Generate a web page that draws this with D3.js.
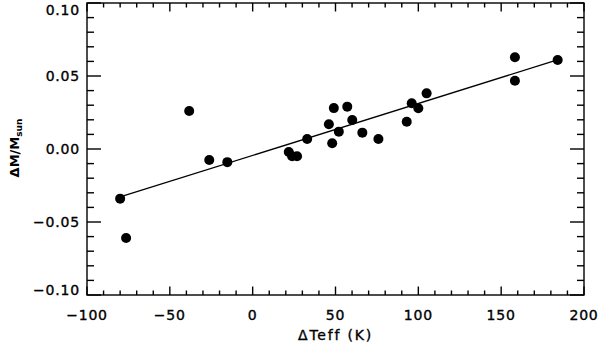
<!DOCTYPE html>
<html><head><meta charset="utf-8">
<script src="https://cdn.jsdelivr.net/npm/d3@7"></script>
<style>
body{margin:0;background:#fff;}
svg{display:block;}
text{font-family:"DejaVu Sans",sans-serif;fill:#000;}
.lab{stroke:#000;stroke-width:0.35;}
</style></head>
<body><svg id="c" width="600" height="347"></svg>
<script>
const dTeff = [-80, -76.4, -38.3, -26.2, -15.3, 21.8, 23.8, 26.8, 32.9, 46, 49, 48, 52, 57.1, 60.1, 66.2, 75.9, 93, 96, 100, 105, 158.3, 158.3, 184.1];
const dM = [-0.034, -0.061, 0.026, -0.0075, -0.009, -0.002, -0.005, -0.005, 0.0068, 0.017, 0.028, 0.0039, 0.0119, 0.029, 0.0199, 0.0112, 0.0068, 0.0187, 0.0313, 0.0279, 0.0381, 0.0628, 0.0468, 0.061];
const fitX = [-80.5, 182];
const fitY = [-0.0330, 0.0603];
const xTicks = [-100, -50, 0, 50, 100, 150, 200];
const yTicks = [-0.10, -0.05, 0.00, 0.05, 0.10];
const xMinor = d3.range(-100, 201, 10);
const yMinor = d3.range(-10, 11, 1).map(v => v / 100);

const L = 87, R = 584, T = 3, B = 295;
const svg = d3.select("#c");
const x = d3.scaleLinear().domain([-100, 200]).range([L, R]);
const y = d3.scaleLinear().domain([-0.10, 0.10]).range([B, T]);

const g = svg.append("g").attr("stroke", "#000").attr("stroke-width", 1.4);
g.append("rect").attr("x", L).attr("y", T).attr("width", R - L).attr("height", B - T).attr("fill", "none");
xMinor.forEach(v => {
  const major = v % 50 === 0;
  const len = major ? 8.5 : 4.5;
  g.append("line").attr("x1", x(v)).attr("x2", x(v)).attr("y1", B).attr("y2", B - len);
  g.append("line").attr("x1", x(v)).attr("x2", x(v)).attr("y1", T).attr("y2", T + len);
});
yMinor.forEach(v => {
  const major = Math.round(v * 100) % 5 === 0;
  const len = major ? 14 : 7;
  g.append("line").attr("y1", y(v)).attr("y2", y(v)).attr("x1", L).attr("x2", L + len);
  g.append("line").attr("y1", y(v)).attr("y2", y(v)).attr("x1", R).attr("x2", R - len);
});
const fmtY = v => (v < 0 ? "\u2212" : "") + Math.abs(v).toFixed(2);
const fmtX = v => (v < 0 ? "\u2212" : "") + Math.abs(v);
svg.append("g").selectAll("text").data(xTicks).join("text").attr("class", "lab")
  .attr("x", d => x(d)).attr("y", 320).attr("text-anchor", "middle")
  .attr("font-size", 14).attr("letter-spacing", 0.8).text(fmtX);
svg.append("g").selectAll("text").data(yTicks).join("text").attr("class", "lab")
  .attr("x", 80).attr("y", d => Math.min(Math.max(y(d), 10), 290) + 5).attr("text-anchor", "end")
  .attr("font-size", 14).attr("letter-spacing", 0.8).text(fmtY);
svg.append("text").attr("class", "lab").attr("x", (L + R) / 2).attr("y", 340).attr("text-anchor", "middle")
  .attr("font-size", 14).attr("letter-spacing", 1.8).text("\u0394Teff (K)");
const yt = svg.append("text").attr("transform", "translate(19,148) rotate(-90)")
  .attr("text-anchor", "middle").attr("font-size", 13).attr("font-weight", "bold")
  .attr("font-family", "Liberation Sans, sans-serif");
yt.append("tspan").text("\u0394M/M");
yt.append("tspan").attr("font-size", 9).attr("dy", 3).text("sun");
svg.append("line").attr("x1", x(fitX[0])).attr("y1", y(fitY[0])).attr("x2", x(fitX[1])).attr("y2", y(fitY[1]))
  .attr("stroke", "#000").attr("stroke-width", 1.3);
svg.append("g").selectAll("circle").data(dTeff.map((d, i) => [d, dM[i]])).join("circle")
  .attr("cx", d => x(d[0])).attr("cy", d => y(d[1])).attr("r", 5).attr("fill", "#000");
</script></body></html>
